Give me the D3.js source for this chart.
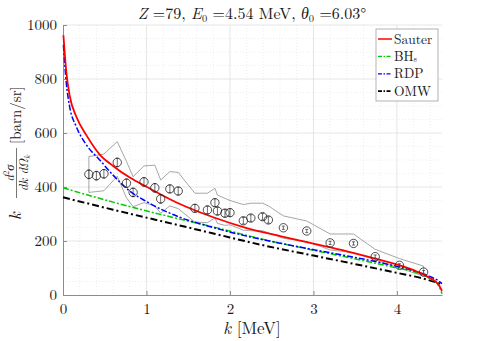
<!DOCTYPE html>
<html>
<head>
<meta charset="utf-8">
<script src="https://cdn.jsdelivr.net/npm/d3@7"></script>
<style>
  body { margin: 0; background: #fff; }
  svg text { font-family: "Latin Modern Roman", "CMU Serif", "Liberation Serif", "DejaVu Serif", "Times New Roman", Times, serif; fill: #1a1a1a; }
</style>
</head>
<body>
<svg id="chart" width="488" height="341"></svg>
<script>
// measured points (k in MeV, value in barn/sr)
var expK   = [0.31, 0.40, 0.49, 0.65, 0.76, 0.84, 0.97, 1.10, 1.17, 1.28, 1.38, 1.58, 1.73, 1.82, 1.85, 1.94, 2.00, 2.16, 2.25, 2.39, 2.46, 2.64, 2.92, 3.20, 3.48, 3.74, 4.03, 4.32];
var expVal = [447, 442, 449, 491, 414, 380, 419, 397, 356, 393, 385, 321, 315, 342, 311, 303, 305, 275, 285, 290, 278, 249, 237, 193, 191, 142, 110, 85];
var expErr = [16, 16, 16, 16, 16, 16, 16, 16, 16, 14, 14, 14, 14, 14, 14, 14, 14, 12, 12, 12, 12, 6, 6, 6, 6, 6, 6, 6];
var bandUp = [513, 517, 522, 568, 495, 438, 478, 481, 426, 457, 454, 377, 377, 395, 370, 358, 350, 335, 340, 340, 330, 293, 274, 226, 226, 169, 135, 107];
var bandLo = [380, 383, 386, 440, 360, 327, 342, 330, 303, 330, 320, 270, 268, 285, 265, 258, 260, 240, 238, 238, 230, 210, 198, 167, 157, 130, 100, 70];

// model curves
var sauterK = [0.005, 0.04, 0.08, 0.16, 0.28, 0.44, 0.6, 0.8, 1.0, 1.4, 1.8, 2.2, 2.6, 3.0, 3.4, 3.8, 4.2, 4.4, 4.5, 4.54];
var sauterV = [962, 825, 738, 660, 592, 520, 478, 435, 401, 337, 288, 248, 218, 190, 162, 130, 92, 62, 38, 15];
var rdpK    = [0.005, 0.04, 0.08, 0.16, 0.28, 0.44, 0.6, 0.8, 1.0, 1.4, 1.8, 2.2, 2.6, 3.0, 3.4, 3.8, 4.2, 4.4, 4.5, 4.54];
var rdpV    = [926, 784, 697, 623, 556, 500, 444, 385, 346, 288, 250, 218, 192, 168, 145, 120, 90, 68, 52, 42];
var bhK     = [0, 0.6, 1.2, 1.8, 2.4, 3.0, 3.6, 4.0, 4.2, 4.4, 4.5, 4.54];
var bhV     = [397, 344, 296, 252, 206, 166, 127, 100, 86, 60, 35, 5];
var omwK    = [0, 0.6, 1.2, 1.8, 2.4, 3.0, 3.6, 4.0, 4.3, 4.54];
var omwV    = [362, 316, 272, 228, 184, 146, 108, 82, 62, 40];

var xTicks = [0, 1, 2, 3, 4];
var yTicks = [0, 200, 400, 600, 800, 1000];

var serif = "\"Latin Modern Roman\", \"CMU Serif\", \"Liberation Serif\", \"DejaVu Serif\", \"Times New Roman\", serif";

var svg = d3.select("#chart"),
    margin = {top: 25, right: 46, bottom: 46, left: 63},
    width = 488 - margin.left - margin.right,
    height = 341 - margin.top - margin.bottom,
    g = svg.append("g").attr("transform", "translate(" + margin.left + "," + margin.top + ")");

var x = d3.scaleLinear().domain([0, 4.54]).range([0, width]);
var y = d3.scaleLinear().domain([0, 1000]).range([height, 0]);

// grid: minor dotted then major solid
g.append("g").selectAll("line")
    .data(d3.range(0.2, 4.54, 0.2).filter(function (d) { return Math.abs(d - Math.round(d)) > 1e-6; }))
    .enter().append("line")
    .attr("x1", x).attr("x2", x).attr("y1", 0).attr("y2", height)
    .attr("stroke", "#e3e3e3").attr("stroke-width", 0.6).attr("stroke-dasharray", "1,2");
g.append("g").selectAll("line")
    .data(d3.range(50, 1000, 50).filter(function (d) { return d % 200 !== 0; }))
    .enter().append("line")
    .attr("x1", 0).attr("x2", width).attr("y1", y).attr("y2", y)
    .attr("stroke", "#e3e3e3").attr("stroke-width", 0.6).attr("stroke-dasharray", "1,2");
g.append("g").selectAll("line")
    .data(xTicks.slice(1))
    .enter().append("line")
    .attr("x1", x).attr("x2", x).attr("y1", 0).attr("y2", height)
    .attr("stroke", "#e0e0e0").attr("stroke-width", 0.8);
g.append("g").selectAll("line")
    .data(yTicks.slice(1))
    .enter().append("line")
    .attr("x1", 0).attr("x2", width).attr("y1", y).attr("y2", y)
    .attr("stroke", "#e0e0e0").attr("stroke-width", 0.8);

// axes
var xAxis = g.append("g")
    .attr("transform", "translate(0," + height + ")")
    .call(d3.axisBottom(x).tickValues(xTicks).tickSizeInner(-4).tickSizeOuter(0).tickPadding(8).tickFormat(d3.format("d")));
var yAxis = g.append("g")
    .call(d3.axisLeft(y).tickValues(yTicks).tickSizeInner(-4).tickSizeOuter(0).tickPadding(6).tickFormat(d3.format("d")));
[xAxis, yAxis].forEach(function (a) {
    a.attr("font-family", serif);
    a.select(".domain").attr("stroke", "#8c8c8c");
    a.selectAll(".tick line").attr("stroke", "#8c8c8c");
    a.selectAll(".tick text").attr("font-size", 15).attr("fill", "#1a1a1a");
});
xAxis.selectAll(".tick text").attr("dy", "0.75em");

// experimental band (closed outline)
var bandPts = expK.map(function (k, i) { return [x(k), y(bandUp[i])]; })
    .concat(expK.slice().reverse().map(function (k, i) { return [x(k), y(bandLo[expK.length - 1 - i])]; }));
g.append("path")
    .attr("d", d3.line()(bandPts) + "Z")
    .attr("fill", "none").attr("stroke", "#7f7f7f").attr("stroke-width", 0.7);

// model curves
var line = d3.line().curve(d3.curveMonotoneX);
function curve(ks, vs, color, w, dash) {
    g.append("path")
        .attr("d", line(ks.map(function (k, i) { return [x(k), y(vs[i])]; })))
        .attr("fill", "none").attr("stroke", color).attr("stroke-width", w)
        .attr("stroke-dasharray", dash);
}
curve(omwK, omwV, "#000000", 2, "7,3,2,3");
curve(bhK, bhV, "#00cc00", 1.5, "6,2,2,2");
curve(rdpK, rdpV, "#0000ff", 1.5, "6,2,2,2");
curve(sauterK, sauterV, "#ff0000", 1.8, null);

// error bars and circles
var pts = g.append("g").selectAll("g")
    .data(expK.map(function (k, i) { return {k: k, v: expVal[i], e: expErr[i]}; }))
    .enter().append("g");
pts.append("line")
    .attr("x1", function (d) { return x(d.k); }).attr("x2", function (d) { return x(d.k); })
    .attr("y1", function (d) { return y(d.v - d.e); }).attr("y2", function (d) { return y(d.v + d.e); })
    .attr("stroke", "#333").attr("stroke-width", 0.7);
[-1, 1].forEach(function (s) {
    pts.append("line")
        .attr("x1", function (d) { return x(d.k) - 1.5; }).attr("x2", function (d) { return x(d.k) + 1.5; })
        .attr("y1", function (d) { return y(d.v + s * d.e); }).attr("y2", function (d) { return y(d.v + s * d.e); })
        .attr("stroke", "#333").attr("stroke-width", 0.7);
});
pts.append("circle")
    .attr("cx", function (d) { return x(d.k); }).attr("cy", function (d) { return y(d.v); })
    .attr("r", 4.2)
    .attr("fill", "none").attr("stroke", "#222").attr("stroke-width", 0.8);

// legend
var legendKeys = [
    {name: "Sauter", sub: "", color: "#ff0000", dash: null, w: 1.5},
    {name: "BH", sub: "s", color: "#00cc00", dash: "4,1.5,1.5,1.5", w: 1.3},
    {name: "RDP", sub: "", color: "#0000ff", dash: "4,1.5,1.5,1.5", w: 1.3},
    {name: "OMW", sub: "", color: "#000000", dash: "4,1.5,1.5,1.5", w: 1.8}
];
var lg = svg.append("g").attr("transform", "translate(376,29)");
lg.append("rect").attr("width", 62).attr("height", 72)
    .attr("fill", "#fff").attr("stroke", "#a0a0a0").attr("stroke-width", 0.8);
var items = lg.selectAll("g.item").data(legendKeys).enter().append("g")
    .attr("transform", function (d, i) { return "translate(0," + (10 + i * 17.4) + ")"; });
items.append("line").attr("x1", 2).attr("x2", 16).attr("y1", 0).attr("y2", 0)
    .attr("stroke", function (d) { return d.color; })
    .attr("stroke-width", function (d) { return d.w; })
    .attr("stroke-dasharray", function (d) { return d.dash; });
var it = items.append("text").attr("x", 18).attr("y", 4.5).attr("font-size", 13.5);
it.append("tspan").text(function (d) { return d.name; });
it.append("tspan").attr("font-size", 8).attr("dy", 1.5).text(function (d) { return d.sub; });

// title
var title = svg.append("text").attr("x", 252).attr("y", 19).attr("text-anchor", "middle").attr("font-size", 16);
title.append("tspan").attr("font-style", "italic").text("Z");
title.append("tspan").text(" =79, ");
title.append("tspan").attr("font-style", "italic").text("E");
title.append("tspan").attr("font-size", 10.5).attr("dy", 3).text("0");
title.append("tspan").attr("dy", -3).text(" =4.54 MeV, ");
title.append("tspan").attr("font-style", "italic").text("θ");
title.append("tspan").attr("font-size", 10.5).attr("dy", 3).text("0");
title.append("tspan").attr("dy", -3).text(" =6.03°");

// x label
var xl = svg.append("text").attr("x", 252).attr("y", 334).attr("text-anchor", "middle").attr("font-size", 17);
xl.append("tspan").attr("font-style", "italic").text("k");
xl.append("tspan").text(" [MeV]");

// y label: k d²σ/(dk dΩk) [barn/sr], rotated (local x runs bottom to top)
var yl = svg.append("g").attr("transform", "translate(21,155) rotate(-90)");
yl.append("text").attr("x", -65).attr("y", 0).attr("font-size", 17).attr("font-style", "italic").text("k");
var num = yl.append("text").attr("x", -18).attr("y", -7).attr("text-anchor", "middle").attr("font-size", 12.5).attr("font-style", "italic");
num.append("tspan").text("d");
num.append("tspan").attr("font-size", 8.5).attr("dy", -5).attr("font-style", "normal").text("2");
num.append("tspan").attr("dy", 5).text("σ");
yl.append("line").attr("x1", -43).attr("x2", 7).attr("y1", -4.5).attr("y2", -4.5)
    .attr("stroke", "#1a1a1a").attr("stroke-width", 0.6);
var den = yl.append("text").attr("x", -18).attr("y", 6.5).attr("text-anchor", "middle").attr("font-size", 12.5).attr("font-style", "italic");
den.append("tspan").text("dk dΩ");
den.append("tspan").attr("font-size", 8.5).attr("dy", 2).text("k");
yl.append("text").attr("x", 11).attr("y", 0).attr("font-size", 15).text("[barn/sr]");
</script>
</body>
</html>
